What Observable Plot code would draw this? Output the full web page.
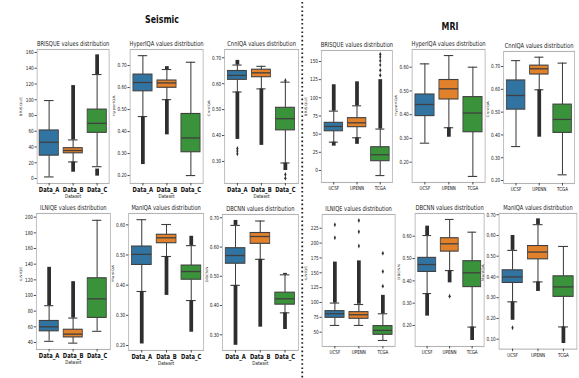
<!DOCTYPE html>
<html><head><meta charset="utf-8">
<script src="https://cdn.jsdelivr.net/npm/d3@7"></script>
<script src="https://cdn.jsdelivr.net/npm/@observablehq/plot@0.6"></script>
<style>
html,body{margin:0;padding:0;background:#fff;overflow:hidden;width:579px;height:378px;}
#stage{position:relative;width:772px;height:378px;transform:scaleX(0.75);transform-origin:0 0;font-family:"DejaVu Sans",sans-serif;}
.panel{position:absolute;}
.head{position:absolute;font-weight:bold;font-size:10.5px;line-height:1;color:#111;transform:translateX(-50%);white-space:nowrap;}
</style></head><body><div id="stage"></div>
<script>
// ---------- categories ----------
const seismicCats = ["Data_A", "Data_B", "Data_C"];
const mriCats = ["UCSF", "UPENN", "TCGA"];

// ---------- box stats: [whisker low, q1, median, q3, whisker high] per category ----------
const seismicBRISQUE = [[2, 29, 46, 61, 99], [21, 32, 35.5, 38.5, 49], [15, 58, 70, 87.5, 132]];
const seismicHyperIQA = [[0.468, 0.583, 0.623, 0.659, 0.745], [0.545, 0.599, 0.621, 0.632, 0.682], [0.2, 0.306, 0.371, 0.48, 0.715]];
const seismicCnnIQA = [[0.568, 0.615, 0.632, 0.649, 0.672], [0.58, 0.625, 0.642, 0.654, 0.667], [0.294, 0.42, 0.465, 0.507, 0.606]];
const seismicILNIQE = [[41.5, 54.3, 60, 67.5, 87], [39.2, 46.5, 50.7, 56.3, 71.2], [54.3, 71.4, 95.7, 122, 196]];
const seismicManIQA = [[0.379, 0.467, 0.502, 0.528, 0.617], [0.495, 0.539, 0.557, 0.567, 0.601], [0.349, 0.418, 0.445, 0.465, 0.531]];
const seismicDBCNN = [[0.469, 0.543, 0.571, 0.596, 0.674], [0.558, 0.611, 0.636, 0.648, 0.689], [0.375, 0.403, 0.423, 0.444, 0.505]];
const mriBRISQUE = [[39, 54, 60.6, 65.6, 81.7], [45, 59.6, 65.6, 72, 89], [-7, 12.8, 21.6, 32, 57]];
const mriHyperIQA = [[0.28, 0.394, 0.443, 0.485, 0.614], [0.345, 0.464, 0.509, 0.546, 0.649], [0.14, 0.326, 0.407, 0.474, 0.6]];
const mriCnnIQA = [[0.349, 0.511, 0.573, 0.639, 0.726], [0.598, 0.665, 0.69, 0.704, 0.741], [0.225, 0.409, 0.468, 0.533, 0.715]];
const mriILNIQE = [[61.3, 74.2, 81, 85.4, 99], [61.3, 72.5, 79.3, 83.7, 96.6], [36, 45.6, 53, 60.2, 81]];
const mriDBCNN = [[0.343, 0.44, 0.473, 0.503, 0.603], [0.446, 0.531, 0.566, 0.591, 0.675], [0.193, 0.372, 0.436, 0.488, 0.618]];
const mriManIQA = [[0.28, 0.371, 0.4, 0.432, 0.528], [0.376, 0.485, 0.52, 0.549, 0.652], [0.159, 0.304, 0.352, 0.403, 0.547]];

// ---------- dense outlier runs: [category index, from, to] ----------
const seismicBRISQUEFliers = [[1, 49, 118], [1, 8, 21], [2, 132, 157], [2, 3, 12]];
const seismicHyperIQAFliers = [[0, 0.25, 0.468], [1, 0.385, 0.545], [1, 0.682, 0.695]];
const seismicCnnIQAFliers = [[0, 0.672, 0.69], [0, 0.385, 0.568], [1, 0.362, 0.58], [2, 0.265, 0.294]];
const seismicILNIQEFliers = [[0, 87, 136], [1, 71.2, 117.7]];
const seismicManIQAFliers = [[0, 0.205, 0.379], [1, 0.366, 0.495], [2, 0.531, 0.562], [2, 0.244, 0.349]];
const seismicDBCNNFliers = [[0, 0.674, 0.691], [0, 0.264, 0.469], [1, 0.326, 0.558], [2, 0.505, 0.51], [2, 0.318, 0.375]];
const mriBRISQUEFliers = [[0, 81.7, 118], [0, 33.5, 39], [1, 89, 122], [1, 36, 45], [2, 57, 125]];
const mriHyperIQAFliers = [[1, 0.305, 0.345]];
const mriCnnIQAFliers = [[1, 0.39, 0.598]];
const mriILNIQEFliers = [[0, 99, 168], [1, 97, 170], [2, 81, 112]];
const mriDBCNNFliers = [[0, 0.603, 0.645], [0, 0.242, 0.343], [1, 0.391, 0.446], [2, 0.133, 0.193]];
const mriManIQAFliers = [[0, 0.528, 0.6], [0, 0.191, 0.28], [1, 0.652, 0.68], [1, 0.33, 0.376], [2, 0.079, 0.159]];

// ---------- isolated outliers: [category index, value] ----------
const seismicCnnIQAPoints = [[0, 0.35], [0, 0.34], [0, 0.33], [2, 0.612], [2, 0.25], [2, 0.235]];
const mriBRISQUEPoints = [[2, 131], [2, 138], [2, 145], [2, 151], [2, 156], [2, 160]];
const mriILNIQEPoints = [[0, 209], [0, 231], [1, 195], [1, 219], [1, 238], [2, 127.5], [2, 152], [2, 183]];
const mriDBCNNPoints = [[1, 0.331]];
const mriManIQAPoints = [[0, 0.155]];

// ---------- tick labels ----------
const ticksSeismicBRISQUE = [0, 20, 40, 60, 80, 100, 120, 140, 160];
const ticksSeismicHyperIQA = [0.2, 0.3, 0.4, 0.5, 0.6, 0.7];
const ticksSeismicCnnIQA = [0.3, 0.4, 0.5, 0.6, 0.7];
const ticksSeismicILNIQE = [40, 60, 80, 100, 120, 140, 160, 180, 200];
const ticksSeismicManIQA = [0.2, 0.3, 0.4, 0.5, 0.6];
const ticksSeismicDBCNN = [0.3, 0.4, 0.5, 0.6, 0.7];
const ticksMriBRISQUE = [0, 25, 50, 75, 100, 125, 150];
const ticksMriHyperIQA = [0.2, 0.3, 0.4, 0.5, 0.6];
const ticksMriCnnIQA = [0.2, 0.3, 0.4, 0.5, 0.6, 0.7];
const ticksMriILNIQE = [50, 75, 100, 125, 150, 175, 200, 225];
const ticksMriDBCNN = [0.2, 0.3, 0.4, 0.5, 0.6];
const ticksMriManIQA = [0.1, 0.2, 0.3, 0.4, 0.5, 0.6, 0.7];

// ---------- styling / layout ----------
const palette = ["#3274a1", "#e1812c", "#3a923a"];
const lineColor = "#3f3f3f";
const SX = 0.75;

const panels = [
  {metric: "BRISQUE", cats: seismicCats, stats: seismicBRISQUE, dense: seismicBRISQUEFliers, sparse: [], ticks: ticksSeismicBRISQUE, domain: [-6.35, 163.8], frame: [37, 109, 49, 183], seismic: true},
  {metric: "HyperIQA", cats: seismicCats, stats: seismicHyperIQA, dense: seismicHyperIQAFliers, sparse: [], ticks: ticksSeismicHyperIQA, domain: [0.164, 0.773], frame: [130, 203, 49, 183], seismic: true},
  {metric: "CnnIQA", cats: seismicCats, stats: seismicCnnIQA, dense: seismicCnnIQAFliers, sparse: seismicCnnIQAPoints, ticks: ticksSeismicCnnIQA, domain: [0.215, 0.732], frame: [224, 298, 49, 183], seismic: true},
  {metric: "BRISQUE", cats: mriCats, stats: mriBRISQUE, dense: mriBRISQUEFliers, sparse: mriBRISQUEPoints, ticks: ticksMriBRISQUE, domain: [-16.5, 165.1], frame: [321, 392, 50, 182], seismic: false},
  {metric: "HyperIQA", cats: mriCats, stats: mriHyperIQA, dense: mriHyperIQAFliers, sparse: [], ticks: ticksMriHyperIQA, domain: [0.1145, 0.6745], frame: [412, 485, 49, 182], seismic: false},
  {metric: "CnnIQA", cats: mriCats, stats: mriCnnIQA, dense: mriCnnIQAFliers, sparse: [], ticks: ticksMriCnnIQA, domain: [0.187, 0.766], frame: [503, 574, 51, 183], seismic: false},
  {metric: "ILNIQE", cats: seismicCats, stats: seismicILNIQE, dense: seismicILNIQEFliers, sparse: [], ticks: ticksSeismicILNIQE, domain: [31.1, 204.7], frame: [36, 110, 213, 349], seismic: true},
  {metric: "ManIQA", cats: seismicCats, stats: seismicManIQA, dense: seismicManIQAFliers, sparse: [], ticks: ticksSeismicManIQA, domain: [0.1834, 0.6375], frame: [128, 203, 213, 350], seismic: true},
  {metric: "DBCNN", cats: seismicCats, stats: seismicDBCNN, dense: seismicDBCNNFliers, sparse: [], ticks: ticksSeismicDBCNN, domain: [0.2463, 0.7113], frame: [222, 298, 214, 350], seismic: true},
  {metric: "ILNIQE", cats: mriCats, stats: mriILNIQE, dense: mriILNIQEFliers, sparse: mriILNIQEPoints, ticks: ticksMriILNIQE, domain: [25.9, 248.1], frame: [322, 395, 214, 346], seismic: false},
  {metric: "DBCNN", cats: mriCats, stats: mriDBCNN, dense: mriDBCNNFliers, sparse: mriDBCNNPoints, ticks: ticksMriDBCNN, domain: [0.106, 0.7017], frame: [415, 484, 213, 346], seismic: false},
  {metric: "ManIQA", cats: mriCats, stats: mriManIQA, dense: mriManIQAFliers, sparse: mriManIQAPoints, ticks: ticksMriManIQA, domain: [0.052, 0.706], frame: [499, 577, 213, 349], seismic: false}
];

const stage = document.getElementById("stage");

function makePanel(cfg) {
  const {metric, cats, stats, dense, sparse, ticks, domain, frame, seismic} = cfg;
  const [L, R, T, B] = frame;
  const mL = 30, mR = 3, mT = 14, mB = 24;
  const fw = (R - L) / SX;
  const fh = B - T;
  const bw = fw / cats.length;
  const rows = stats.map((s, i) => ({cat: cats[i], lo: s[0], q1: s[1], med: s[2], q3: s[3], hi: s[4]}));
  const runs = dense.map(([i, a, b]) => ({cat: cats[i], a, b}));
  const pts = sparse.map(([i, v]) => ({cat: cats[i], v}));
  const marks = [
    Plot.frame({stroke: "#b3b3b3", strokeWidth: 1.1}),
    Plot.axisY({ticks, tickSize: 3, tickPadding: 1.5, fontSize: 5.6, label: null, stroke: "#333", fill: "#222"}),
    Plot.axisX({tickSize: 2.5, tickPadding: 1.5, fontSize: seismic ? 7.0 : 5.4, fontWeight: seismic ? "bold" : "normal", label: null, stroke: "#333", fill: "#111"}),
    Plot.text([metric + " values distribution"], {text: d => d, frameAnchor: "top", dy: -3.5, lineAnchor: "bottom", fontSize: 6.9, fill: "#222"}),
    Plot.text([metric], {text: d => d, frameAnchor: "left", dx: -21, rotate: -90, fontSize: 4.4, fill: "#222"}),
    Plot.ruleX(rows, {x: "cat", y1: "lo", y2: "q1", stroke: lineColor, strokeWidth: 1.4}),
    Plot.ruleX(rows, {x: "cat", y1: "q3", y2: "hi", stroke: lineColor, strokeWidth: 1.4}),
    Plot.tickY(rows, {x: "cat", y: "lo", stroke: lineColor, strokeWidth: 1.1, insetLeft: bw * 0.3, insetRight: bw * 0.3}),
    Plot.tickY(rows, {x: "cat", y: "hi", stroke: lineColor, strokeWidth: 1.1, insetLeft: bw * 0.3, insetRight: bw * 0.3}),
    Plot.ruleX(runs, {x: "cat", y1: "a", y2: "b", stroke: "#2e2e2e", strokeWidth: 5}),
    Plot.barY(rows, {x: "cat", y1: "q1", y2: "q3", fill: "cat", stroke: lineColor, strokeWidth: 1.1, insetLeft: bw * 0.1, insetRight: bw * 0.1}),
    Plot.tickY(rows, {x: "cat", y: "med", stroke: lineColor, strokeWidth: 1.3, insetLeft: bw * 0.1, insetRight: bw * 0.1}),
    Plot.dot(pts, {x: "cat", y: "v", symbol: "diamond", r: 1.5, fill: "#2e2e2e", stroke: "none"})
  ];
  if (seismic) marks.push(Plot.text(["Dataset"], {text: d => d, frameAnchor: "bottom", dy: 14.5, fontSize: 5.5, fill: "#222"}));
  const svg = Plot.plot({
    width: fw + mL + mR,
    height: fh + mT + mB,
    marginLeft: mL, marginRight: mR, marginTop: mT, marginBottom: mB,
    style: {background: "transparent", overflow: "visible", fontFamily: "DejaVu Sans", color: "#333"},
    x: {type: "band", domain: cats, padding: 0},
    y: {domain},
    color: {domain: cats, range: palette},
    marks
  });
  const wrap = document.createElement("div");
  wrap.className = "panel";
  wrap.style.left = (L / SX - mL) + "px";
  wrap.style.top = (T - mT) + "px";
  wrap.appendChild(svg);
  stage.appendChild(wrap);
}
panels.forEach(makePanel);

// group headings
const groupHeads = [{text: "Seismic", x: 162, y: 13.5}, {text: "MRI", x: 450, y: 20.5}];
for (const g of groupHeads) {
  const h = document.createElement("div");
  h.className = "head";
  h.style.left = (g.x / SX) + "px";
  h.style.top = g.y + "px";
  h.textContent = g.text;
  stage.appendChild(h);
}

// dotted divider
const ns = "http://www.w3.org/2000/svg";
const div = document.createElementNS(ns, "svg");
div.setAttribute("width", "10");
div.setAttribute("height", "378");
div.style.position = "absolute";
div.style.left = (302 / SX - 5) + "px";
div.style.top = "0px";
const ln = document.createElementNS(ns, "line");
ln.setAttribute("x1", "5"); ln.setAttribute("x2", "5");
ln.setAttribute("y1", "2"); ln.setAttribute("y2", "378");
ln.setAttribute("stroke", "#222");
ln.setAttribute("stroke-width", "2.4");
ln.setAttribute("stroke-dasharray", "1.6 2.6");
div.appendChild(ln);
stage.appendChild(div);
</script>
</body></html>
